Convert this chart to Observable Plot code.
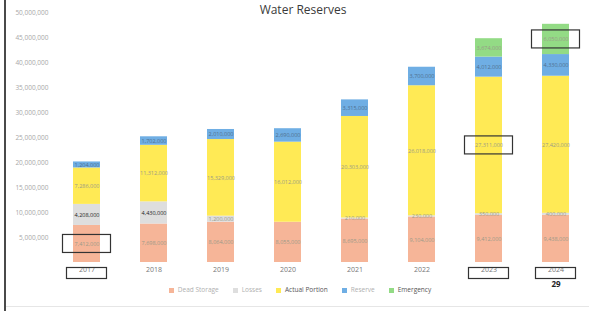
<!DOCTYPE html>
<html>
<head>
<meta charset="utf-8">
<script src="https://cdn.jsdelivr.net/npm/d3@7"></script>
<script src="https://cdn.jsdelivr.net/npm/@observablehq/plot@0.6"></script>
<style>
  html, body { margin: 0; padding: 0; background: #fff; }
  #wrap { position: relative; width: 589px; height: 311px; overflow: hidden; font-family: "Open Sans", "Noto Sans", sans-serif; }
  #border { position: absolute; left: 4px; top: 0; width: 2px; height: 311px; background: #4a4a4a; }
  #bottomline { position: absolute; left: 6px; right: 0; top: 306px; height: 1px; background: #e6e6e6; }
  #title { position: absolute; left: 0; width: 606px; top: 2px; text-align: center; font-size: 12px; line-height: 15px; color: #3a3a3a; }
  #chart { position: absolute; left: 0; top: 0; }
  #legend { position: absolute; left: 0; width: 600px; top: 285px; display: flex; justify-content: center; gap: 14px; font-size: 6.5px; color: #b0b0b0; }
  #legend span.sw { display: inline-block; width: 5px; height: 5px; margin-right: 4px; vertical-align: middle; }
</style>
</head>
<body>
<div id="wrap">
  <div id="chart"></div>
  <div id="title">Water Reserves</div>
  <div id="legend"></div>
  <div id="border"></div>
  <div id="bottomline"></div>
</div>
<script>
// ---- data ----
const years = ["2017", "2018", "2019", "2020", "2021", "2022", "2023", "2024"];
const seriesNames = ["Dead Storage", "Losses", "Actual Portion", "Reserve", "Emergency"];
const seriesColors = ["#F6B598", "#DEDEDE", "#FFEA55", "#6FAEE4", "#93DB85"];
const deadStorage   = [7412000, 7698000, 8064000, 8055000, 8695000, 9104000, 9412000, 9438000];
const losses        = [4208000, 4430000, 1200000, 0, 210000, 230000, 350000, 400000];
const actualPortion = [7286000, 11312000, 15329000, 16012000, 20303000, 26018000, 27311000, 27420000];
const reserve       = [1204000, 1702000, 2010000, 2690000, 3315000, 3700000, 4012000, 4330000];
const emergency     = [0, 0, 0, 0, 0, 0, 3674000, 6050000];
const yTicks = [5e6, 10e6, 15e6, 20e6, 25e6, 30e6, 35e6, 40e6, 45e6, 50e6];
const boxedYears = ["2017", "2023", "2024"];
const boxedSegments = [["2017", "Dead Storage"], ["2023", "Actual Portion"], ["2024", "Emergency"]];
const notes = [{year: "2024", text: "29"}];

const seriesValues = [deadStorage, losses, actualPortion, reserve, emergency];
const rows = [];
years.forEach((yr, i) => {
  seriesNames.forEach((s, k) => rows.push({year: yr, series: s, value: seriesValues[k][i]}));
});
const labeled = rows.filter(d => d.value > 0);
const fmt = d3.format(",");

const isDark = d => d.series === "Losses" && d.value >= 4e6;
const labelFill = d => isDark(d) ? "#222" : d.series === "Reserve" ? "#50708f" : "#9a9a88";

const plot = Plot.plot({
  width: 589,
  height: 311,
  marginTop: 12,
  marginBottom: 49,
  marginLeft: 59,
  marginRight: 7,
  style: {fontFamily: "'Open Sans', 'Noto Sans', sans-serif", background: "transparent", overflow: "visible"},
  x: {domain: years, paddingInner: 0.6, paddingOuter: 0.2, label: null, tickSize: 0, tickPadding: 5},
  y: {domain: [0, 50e6], ticks: yTicks, tickFormat: d3.format(","), label: null, tickSize: 0, tickPadding: 11},
  color: {domain: seriesNames, range: seriesColors},
  marks: [
    Plot.barY(rows, {x: "year", y: "value", fill: "series"}),
    Plot.text(labeled, Plot.stackY({
      x: "year", y: "value", z: "series", text: d => fmt(d.value),
      fill: labelFill, fontSize: 5.5, fontWeight: d => isDark(d) ? "bold" : "normal"
    })),
    Plot.text(notes, {x: "year", text: "text", frameAnchor: "bottom", dy: 24, fontSize: 8, fontWeight: "bold", fill: "#222"})
  ]
});

// style axes text
d3.select(plot).selectAll("g[aria-label='y-axis tick label'] text, g[aria-label='y-axis'] text").attr("fill", "#a8a8a8").attr("font-size", 6.5);
d3.select(plot).selectAll("g[aria-label='x-axis tick label'] text, g[aria-label='x-axis'] text").attr("fill", "#777").attr("font-size", 7);

document.getElementById("chart").appendChild(plot);

// annotation boxes (hand-drawn highlight rectangles), positioned through the plot's scales
const xs = plot.scale("x"), ys = plot.scale("y");
const bw = xs.bandwidth;
const svg = d3.select(plot);
const boxes = svg.append("g").attr("fill", "none").attr("stroke", "#333").attr("stroke-width", 1.2);
boxedYears.forEach(yr => {
  const cx = xs.apply(yr) + bw / 2;
  const cy = ys.apply(0) + 11;
  boxes.append("rect").attr("x", cx - 20).attr("y", cy - 5.5).attr("width", 40).attr("height", 11);
});
boxedSegments.forEach(([yr, s]) => {
  const i = years.indexOf(yr), k = seriesNames.indexOf(s);
  let base = 0;
  for (let j = 0; j < k; j++) base += seriesValues[j][i];
  const mid = base + seriesValues[k][i] / 2;
  const cx = xs.apply(yr) + bw / 2, cy = ys.apply(mid);
  boxes.append("rect").attr("x", cx - 24).attr("y", cy - 9).attr("width", 48).attr("height", 18);
});

// legend
const legend = document.getElementById("legend");
seriesNames.forEach((s, k) => {
  const item = document.createElement("span");
  item.innerHTML = `<span class="sw" style="background:${seriesColors[k]}"></span>${s}`;
  if (s === "Actual Portion" || s === "Emergency") item.style.color = "#555";
  legend.appendChild(item);
});
</script>
</body>
</html>
